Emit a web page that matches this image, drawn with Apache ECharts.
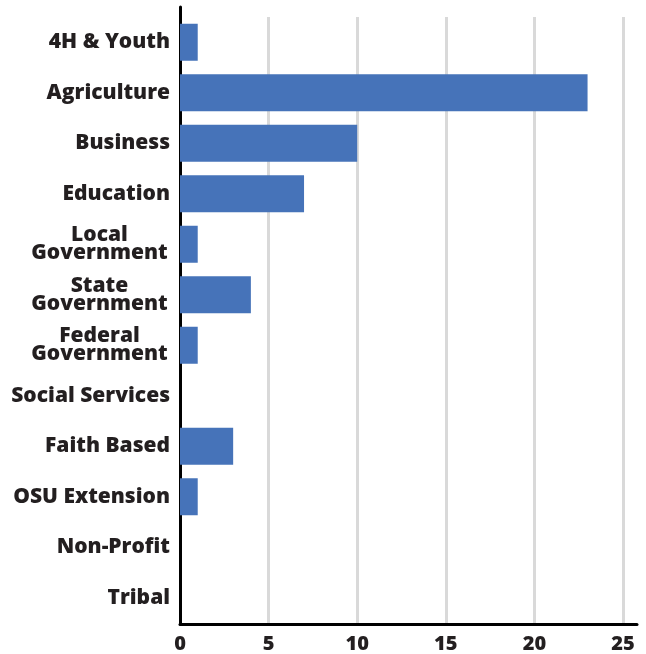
<!DOCTYPE html>
<html>
<head>
<meta charset="utf-8">
<script src="https://cdn.jsdelivr.net/npm/echarts@6/dist/echarts.min.js"></script>
<style>html,body{margin:0;padding:0;background:#fff}#c{width:646px;height:654px}</style>
</head>
<body>
<div id="c"></div>
<script>
const categories = ['4H & Youth','Agriculture','Business','Education','Local\nGovernment','State\nGovernment','Federal\nGovernment','Social Services','Faith Based','OSU Extension','Non-Profit','Tribal'];
const values = [1, 23, 10, 7, 1, 4, 1, 0, 3, 1, 0, 0];
const xTicks = [0, 5, 10, 15, 20, 25];

const font = '"Open Sans", Roboto, sans-serif';
const fs = 21;
const fw = 800;
const cv = document.createElement('canvas').getContext('2d');
cv.font = fw + ' ' + fs + 'px ' + font;
function w(s) { return Math.ceil(cv.measureText(s).width); }

const chart = echarts.init(document.getElementById('c'));
chart.setOption({
  animation: false,
  grid: [
    {left: 180, right: 23, top: 17, bottom: 30},
    {left: 180, right: 9, top: 7, bottom: 30}
  ],
  xAxis: [
    {gridIndex: 0, type: 'value', min: xTicks[0], max: xTicks[xTicks.length-1], interval: 5,
     axisLine: {show: false}, axisTick: {show: false},
     splitLine: {show: true, lineStyle: {color: '#d9d9d9', width: 3}},
     axisLabel: {color: '#231f20', fontFamily: font, fontWeight: fw, fontSize: 20, margin: 11}},
    {gridIndex: 1, type: 'value', min: 0, max: 1,
     axisLine: {show: true, lineStyle: {color: '#000', width: 3}},
     axisTick: {show: false}, axisLabel: {show: false}, splitLine: {show: false}}
  ],
  yAxis: [
    {gridIndex: 0, type: 'category', inverse: true, data: categories,
     axisLine: {show: false}, axisTick: {show: false}, splitLine: {show: false},
     axisLabel: {
       margin: 10,
       formatter: function (v) {
         if (v.indexOf('\n') >= 0) {
           return v.split('\n').map(s => '{c|' + s + '}').join('\n');
         }
         return '{s|' + v + '}';
       },
       rich: {
         c: {width: w('Government'), align: 'center', color: '#231f20', fontFamily: font, fontWeight: fw, fontSize: fs, lineHeight: 18, padding: [0, 2, 0, 0]},
         s: {color: '#231f20', fontFamily: font, fontWeight: fw, fontSize: fs, lineHeight: 22}
       }
     }},
    {gridIndex: 1, type: 'value', min: 0, max: 1,
     axisLine: {show: true, lineStyle: {color: '#000', width: 3}},
     axisTick: {show: false}, axisLabel: {show: false}, splitLine: {show: false}}
  ],
  series: [{
    type: 'bar', xAxisIndex: 0, yAxisIndex: 0, data: values,
    barWidth: 37, itemStyle: {color: '#4673b9'}
  }]
});
</script>
</body>
</html>
